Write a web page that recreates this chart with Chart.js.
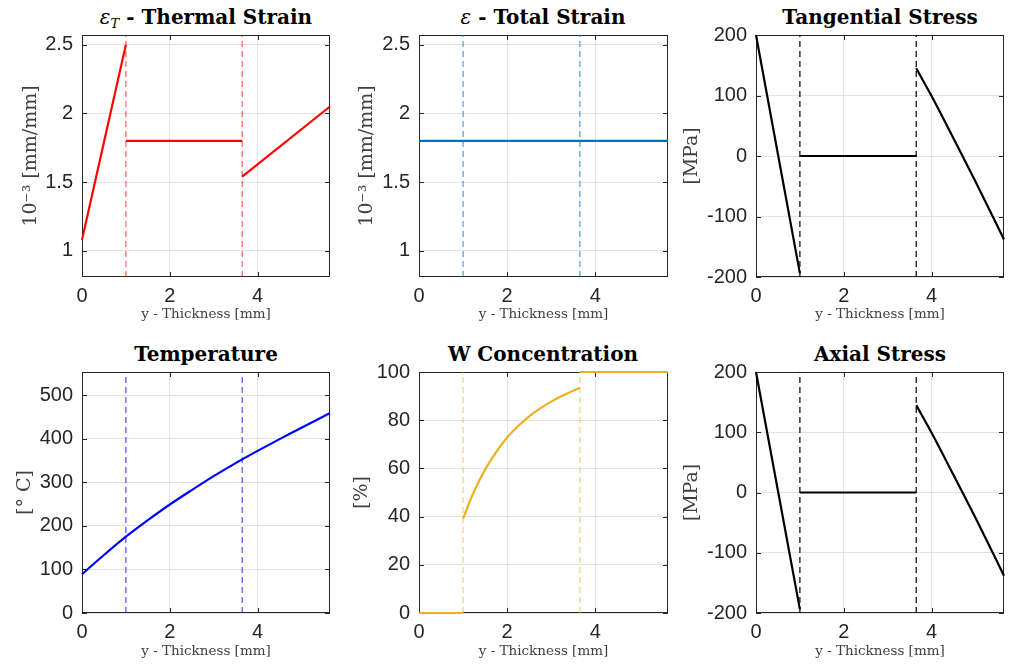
<!DOCTYPE html>
<html lang="en">
<head>
  <meta charset="UTF-8" />
  <title>Coating profiles</title>
  <script src="https://cdn.jsdelivr.net/npm/chart.js"></script>
  <style>
    body { margin: 0; background: #fff; width: 1009px; height: 664px; position: relative; overflow: hidden; }
    canvas { position: absolute; }
    .ttl { position: absolute; font-family: "DejaVu Serif", serif; font-weight: bold; font-size: 20px;
           line-height: 22px; color: #000; text-align: center; white-space: nowrap; transform: translateX(-50%); }
    .ttl i { font-weight: normal; }
    .ttl sub { font-size: 13px; vertical-align: -4px; }
  </style>
</head>
<body>
  <div class="ttl" style="left:206px; top:6px;"><i>ε<sub>T</sub></i> - Thermal Strain</div>
  <div class="ttl" style="left:543px; top:6px;"><i>ε</i> - Total Strain</div>
  <div class="ttl" style="left:880px; top:6px;">Tangential Stress</div>
  <div class="ttl" style="left:206px; top:343px;">Temperature</div>
  <div class="ttl" style="left:543px; top:343px;">W Concentration</div>
  <div class="ttl" style="left:880px; top:343px;">Axial Stress</div>

  <canvas id="thermal" style="left:0; top:0;" width="335" height="330"></canvas>
  <canvas id="total" style="left:337px; top:0;" width="336" height="330"></canvas>
  <canvas id="tangential" style="left:674px; top:0;" width="335" height="330"></canvas>
  <canvas id="temperature" style="left:0; top:337px;" width="335" height="327"></canvas>
  <canvas id="tungsten" style="left:337px; top:337px;" width="336" height="327"></canvas>
  <canvas id="axial" style="left:674px; top:337px;" width="335" height="327"></canvas>

  <script>
    // thickness axis (mm)
    const xRange = [0, 5.65];
    const xTicks = [0, 2, 4];
    const interfaces = [1.0, 3.65];

    // thermal strain, 10^-3 mm/mm
    const thermalX1 = [0, 1.0];
    const thermalY1 = [1.08, 2.5];
    const thermalX2 = [1.0, 3.65];
    const thermalY2 = [1.8, 1.8];
    const thermalX3 = [3.65, 5.65];
    const thermalY3 = [1.54, 2.05];

    // total strain, 10^-3 mm/mm
    const totalX = [0, 5.65];
    const totalY = [1.8, 1.8];
    const strainRange = [0.81, 2.57];
    const strainTicks = [1, 1.5, 2, 2.5];

    // tangential stress, MPa
    const tangX1 = [0, 1.0];
    const tangY1 = [200, -194];
    const tangX2 = [1.0, 3.65];
    const tangY2 = [0, 0];
    const tangX3 = [3.65, 4.0, 4.5, 5.0, 5.65];
    const tangY3 = [145, 99, 29, -42, -138];

    // axial stress, MPa
    const axialX1 = [0, 1.0];
    const axialY1 = [200, -194];
    const axialX2 = [1.0, 3.65];
    const axialY2 = [0, 0];
    const axialX3 = [3.65, 4.0, 4.5, 5.0, 5.65];
    const axialY3 = [145, 99, 29, -42, -138];
    const stressRange = [-200, 200];
    const stressTicks = [-200, -100, 0, 100, 200];

    // temperature, °C
    const tempX = [0, 0.5, 1, 1.5, 2, 2.5, 3, 3.5, 4, 4.5, 5, 5.65];
    const tempY = [89, 133, 175, 213, 249, 282, 314, 344, 372, 399, 425, 459];
    const tempRange = [0, 553];
    const tempTicks = [0, 100, 200, 300, 400, 500];

    // W concentration, %
    const wX1 = [0, 1.0];
    const wY1 = [0, 0];
    const wX2 = [1.0, 1.25, 1.5, 1.75, 2, 2.25, 2.5, 2.75, 3, 3.25, 3.5, 3.65];
    const wY2 = [39.2, 50.5, 59.5, 66.8, 72.8, 77.6, 81.6, 84.9, 87.7, 90.1, 92.2, 93.5];
    const wX3 = [3.65, 5.65];
    const wY3 = [100, 100];
    const wRange = [0, 100];
    const wTicks = [0, 20, 40, 60, 80, 100];

    const ink = "#262626";
    const serif = "'DejaVu Serif', serif";
    const sans = "'Liberation Sans', Arial, sans-serif";

    function pts(xs, ys) {
      return xs.map((x, i) => ({ x: x, y: ys[i] }));
    }

    function solid(xs, ys, color) {
      return { data: pts(xs, ys), borderColor: color, borderWidth: 2.2, pointRadius: 0, clip: 3,
               cubicInterpolationMode: "monotone" };
    }

    function dashed(x, range, color) {
      return { data: [{ x: x, y: range[0] }, { x: x, y: range[1] }], borderColor: color,
               borderWidth: 1.2, borderDash: [6, 4], pointRadius: 0 };
    }

    // box round the axes with inward ticks, like the original figure
    const boxPlugin = {
      id: "box",
      beforeDatasetsDraw(chart) {
        const { ctx, chartArea: a, scales } = chart;
        ctx.save();
        ctx.strokeStyle = ink;
        ctx.lineWidth = 1;
        ctx.strokeRect(a.left + 0.5, a.top + 0.5, a.right - a.left - 1, a.bottom - a.top - 1);
        ctx.beginPath();
        scales.x.ticks.forEach((t) => {
          const px = Math.round(scales.x.getPixelForValue(t.value)) + 0.5;
          ctx.moveTo(px, a.bottom); ctx.lineTo(px, a.bottom - 5);
          ctx.moveTo(px, a.top); ctx.lineTo(px, a.top + 5);
        });
        scales.y.ticks.forEach((t) => {
          const py = Math.round(scales.y.getPixelForValue(t.value)) + 0.5;
          ctx.moveTo(a.left, py); ctx.lineTo(a.left + 5, py);
          ctx.moveTo(a.right, py); ctx.lineTo(a.right - 5, py);
        });
        ctx.stroke();
        ctx.restore();
      },
    };

    function panel(id, o) {
      new Chart(document.getElementById(id), {
        type: "line",
        data: { datasets: o.datasets },
        plugins: [boxPlugin],
        options: {
          responsive: false,
          animation: false,
          layout: { padding: { top: 35, right: 5, left: 0, bottom: 0 } },
          plugins: { legend: { display: false }, tooltip: { enabled: false } },
          scales: {
            x: {
              type: "linear",
              min: xRange[0],
              max: xRange[1],
              afterBuildTicks: (s) => { s.ticks = xTicks.map((v) => ({ value: v })); },
              afterFit: (s) => { s.height = o.xAxisH; },
              grid: { color: "#e3e3e3", drawTicks: false },
              border: { display: false },
              ticks: { color: ink, padding: 7, font: { family: sans, size: 20 }, callback: (v) => String(v) },
              title: { display: true, text: "y - Thickness [mm]", color: "#404040",
                       font: { family: serif, size: 13.5 }, padding: { top: 0, bottom: o.xTitlePad } },
            },
            y: {
              min: o.range[0],
              max: o.range[1],
              afterBuildTicks: (s) => { s.ticks = o.ticks.map((v) => ({ value: v })); },
              afterFit: (s) => { s.width = 82; },
              grid: { color: "#e3e3e3", drawTicks: false },
              border: { display: false },
              ticks: { color: ink, padding: 9, font: { family: sans, size: 20 }, callback: (v) => String(v) },
              title: { display: true, text: o.yLabel, color: "#404040",
                       font: { family: serif, size: 19 }, padding: { top: o.yTitlePad, bottom: 0 } },
            },
          },
        },
      });
    }

    const red = "#ff0000", redDash = "rgba(255,0,0,0.65)";
    const blue = "#0072bd", blueDash = "rgba(0,114,189,0.7)";
    const black = "#000000";
    const pureBlue = "#0000ff", pureBlueDash = "rgba(0,0,255,0.7)";
    const yellow = "#edb120", yellowDash = "rgba(237,177,32,0.6)";

    panel("thermal", {
      range: strainRange, ticks: strainTicks, yLabel: "10⁻³ [mm/mm]", yTitlePad: 20, xTitlePad: 7, xAxisH: 53,
      datasets: [
        dashed(interfaces[0], strainRange, redDash),
        dashed(interfaces[1], strainRange, redDash),
        solid(thermalX1, thermalY1, red),
        solid(thermalX2, thermalY2, red),
        solid(thermalX3, thermalY3, red),
      ],
    });

    panel("total", {
      range: strainRange, ticks: strainTicks, yLabel: "10⁻³ [mm/mm]", yTitlePad: 19, xTitlePad: 7, xAxisH: 53,
      datasets: [
        dashed(interfaces[0], strainRange, blueDash),
        dashed(interfaces[1], strainRange, blueDash),
        solid(totalX, totalY, blue),
      ],
    });

    panel("tangential", {
      range: stressRange, ticks: stressTicks, yLabel: "[MPa]", yTitlePad: 7, xTitlePad: 7, xAxisH: 53,
      datasets: [
        dashed(interfaces[0], stressRange, black),
        dashed(interfaces[1], stressRange, black),
        solid(tangX1, tangY1, black),
        solid(tangX2, tangY2, black),
        solid(tangX3, tangY3, black),
      ],
    });

    panel("temperature", {
      range: tempRange, ticks: tempTicks, yLabel: "[° C]", yTitlePad: 14, xTitlePad: 4, xAxisH: 51,
      datasets: [
        dashed(interfaces[0], tempRange, pureBlueDash),
        dashed(interfaces[1], tempRange, pureBlueDash),
        solid(tempX, tempY, pureBlue),
      ],
    });

    panel("tungsten", {
      range: wRange, ticks: wTicks, yLabel: "[%]", yTitlePad: 14, xTitlePad: 4, xAxisH: 51,
      datasets: [
        dashed(interfaces[0], wRange, yellowDash),
        dashed(interfaces[1], wRange, yellowDash),
        solid(wX1, wY1, yellow),
        solid(wX2, wY2, yellow),
        solid(wX3, wY3, yellow),
      ],
    });

    panel("axial", {
      range: stressRange, ticks: stressTicks, yLabel: "[MPa]", yTitlePad: 7, xTitlePad: 4, xAxisH: 51,
      datasets: [
        dashed(interfaces[0], stressRange, black),
        dashed(interfaces[1], stressRange, black),
        solid(axialX1, axialY1, black),
        solid(axialX2, axialY2, black),
        solid(axialX3, axialY3, black),
      ],
    });
  </script>
</body>
</html>
